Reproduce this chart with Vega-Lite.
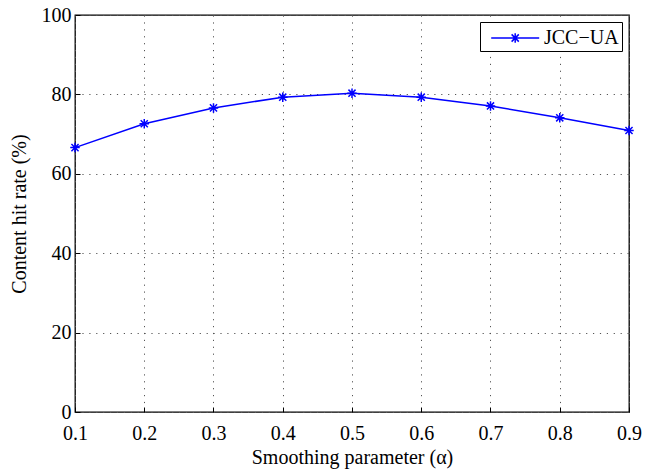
{
  "$schema": "https://vega.github.io/schema/vega-lite/v6.json",
  "autosize": "none",
  "padding": {"left": 75, "top": 15, "right": 35, "bottom": 60},
  "width": 554,
  "height": 397,
  "background": "white",
  "config": {
    "font": "Times New Roman, Liberation Serif, serif",
    "view": {"stroke": "black", "strokeWidth": 1.3},
    "legend": {"labelFont": "Times New Roman, Liberation Serif, serif"},
    "axis": {
      "labelFont": "Times New Roman, Liberation Serif, serif",
      "titleFont": "Times New Roman, Liberation Serif, serif",
      "labelFontSize": 20,
      "titleFontSize": 20,
      "labelColor": "black",
      "titleColor": "black",
      "titleFontWeight": "normal",
      "labelFlush": false,
      "labelOverlap": false,
      "domain": false,
      "tickColor": "black",
      "tickSize": -5,
      "gridColor": "#555",
      "gridDash": [1.2, 5.7],
      "gridWidth": 1
    }
  },
  "data": {
    "values": [
      {"alpha": 0.1, "rate": 66.6, "series": "JCC−UA"},
      {"alpha": 0.2, "rate": 72.6, "series": "JCC−UA"},
      {"alpha": 0.3, "rate": 76.6, "series": "JCC−UA"},
      {"alpha": 0.4, "rate": 79.3, "series": "JCC−UA"},
      {"alpha": 0.5, "rate": 80.3, "series": "JCC−UA"},
      {"alpha": 0.6, "rate": 79.3, "series": "JCC−UA"},
      {"alpha": 0.7, "rate": 77.1, "series": "JCC−UA"},
      {"alpha": 0.8, "rate": 74.1, "series": "JCC−UA"},
      {"alpha": 0.9, "rate": 70.9, "series": "JCC−UA"}
    ]
  },
  "encoding": {
    "x": {
      "field": "alpha",
      "type": "quantitative",
      "scale": {"domain": [0.1, 0.9], "nice": false, "zero": false},
      "axis": {
        "values": [0.1, 0.2, 0.3, 0.4, 0.5, 0.6, 0.7, 0.8, 0.9],
        "format": ".1f",
        "title": "Smoothing parameter (α)",
        "labelPadding": 16,
        "titleY": 35
      }
    },
    "y": {
      "field": "rate",
      "type": "quantitative",
      "scale": {"domain": [0, 100], "nice": false},
      "axis": {
        "values": [0, 20, 40, 60, 80, 100],
        "title": "Content hit rate (%)",
        "labelPadding": 9,
        "titleX": -46
      }
    },
    "color": {
      "field": "series",
      "type": "nominal",
      "scale": {"range": ["#0000ff"]},
      "legend": {
        "title": null,
        "orient": "top-right",
        "offset": 7,
        "strokeColor": "black",
        "fillColor": "white",
        "padding": 3,
        "labelFont": "Times New Roman, Liberation Serif, serif",
        "labelFontSize": 20,
        "labelColor": "black",
        "symbolType": "M-0.4,0L3.6,0M1.6,-0.4L1.6,0.4M1.2,0L2,0M1.3,-0.3L1.9,0.3M1.3,0.3L1.9,-0.3",
        "symbolSize": 576,
        "symbolStrokeWidth": 1.5,
        "symbolFillColor": "transparent",
        "labelOffset": 35
      }
    }
  },
  "layer": [
    {"mark": {"type": "line", "strokeWidth": 1.5}},
    {
      "mark": {
        "type": "point",
        "shape": "M0,-1L0,1M-1,0L1,0M-0.75,-0.75L0.75,0.75M-0.75,0.75L0.75,-0.75",
        "filled": false,
        "size": 90,
        "strokeWidth": 1.5,
        "opacity": 1
      }
    }
  ]
}
